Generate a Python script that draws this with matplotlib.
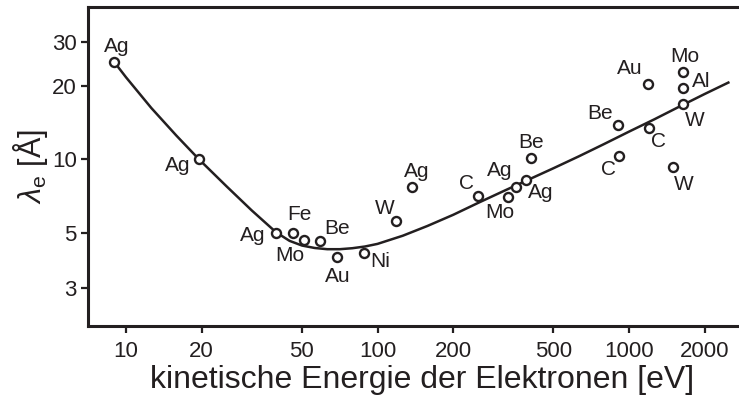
import matplotlib
matplotlib.use("Agg")
import matplotlib.pyplot as plt

# Messpunkte (Energie in eV, mittlere freie Weglaenge in Angstrom)
elements = ["Ag", "Ag", "Ag", "Fe", "Mo", "Be", "Au", "Ni", "W", "Ag",
            "C", "Mo", "Ag", "Ag", "Be", "C", "Be", "C", "Au", "W",
            "W", "Al", "Mo"]
energy = [8.96, 19.5, 39.5, 46.0, 51.2, 59.1, 69.2, 88.4, 118, 137.5,
          252, 331, 355, 391, 406, 915, 907, 1197, 1187, 1492,
          1635, 1644, 1635]
lam = [25.0, 10.0, 5.0, 5.0, 4.68, 4.65, 3.98, 4.16, 5.62, 7.69,
       7.08, 7.05, 7.69, 8.26, 10.1, 10.34, 13.8, 13.38, 20.2, 9.33,
       16.82, 19.5, 22.65]

# Universalkurve
curve_e = [8.96, 10, 12.6, 15.85, 19.5, 25.1, 31.6, 39.5, 44.7, 50.1,
           56.2, 63.1, 70.8, 79.4, 89.1, 100, 126, 158, 200, 251,
           316, 398, 501, 631, 794, 1000, 1259, 1585, 1995, 2483]
curve_lam = [25.0, 21.6, 16.2, 12.5, 10.0, 7.76, 6.19, 5.04, 4.65, 4.45,
             4.35, 4.30, 4.30, 4.34, 4.41, 4.52, 4.88, 5.35, 5.94, 6.64,
             7.41, 8.26, 9.20, 10.28, 11.53, 12.97, 14.55, 16.4, 18.45, 20.56]

xticks = [10, 20, 50, 100, 200, 500, 1000, 2000]
yticks = [3, 5, 10, 20, 30]

# Label-Versatz in Pixeln (dx, dy nach oben)
offsets = [(3, 15), (-21, -6), (-23, -2), (7, 19), (-15, -15), (17, 12),
           (0, -19), (16, -9), (-11, 12), (4, 16), (-12, 13), (-8, -16),
           (-16, 17), (14, -13), (0, 16), (-11, -14), (-18, 12), (10, -13),
           (-18, 16), (11, -18), (12, -17), (18, 7), (2, 16)]

ink = "#231f20"
plt.rcParams["font.family"] = ["Liberation Sans", "DejaVu Sans"]
plt.rcParams["mathtext.fontset"] = "custom"
plt.rcParams["mathtext.rm"] = "Liberation Sans"
plt.rcParams["mathtext.it"] = "Liberation Sans:italic"

fig = plt.figure(figsize=(7.39, 4.03), dpi=100)
ax = fig.add_axes([0.1191, 0.191, 0.8809, 0.7916])

ax.plot(curve_e, curve_lam, color=ink, lw=1.8, zorder=2,
        solid_joinstyle="round")
ax.plot(energy, lam, "o", ms=6.5, mfc="white", mec=ink, mew=1.7, zorder=3)

for el, e, l, (dx, dy) in zip(elements, energy, lam, offsets):
    ax.annotate(el, (e, l), xytext=(dx, dy), textcoords="offset pixels",
                ha="center", va="center", fontsize=15, color=ink)

ax.set_xscale("log")
ax.set_yscale("log")
ax.set_xlim(7.06, 2737)
ax.set_ylim(2.09, 41.8)
ax.set_xticks(xticks)
ax.set_xticklabels([str(t) for t in xticks])
ax.set_yticks(yticks)
ax.set_yticklabels([str(t) for t in yticks])
ax.minorticks_off()

for s in ["left", "top", "bottom"]:
    ax.spines[s].set_linewidth(2.2)
    ax.spines[s].set_color(ink)
ax.spines["right"].set_visible(False)

ax.tick_params(axis="x", direction="out", length=5, width=1.6, pad=6,
               labelsize=16, colors=ink)
ax.tick_params(axis="y", direction="out", length=5, width=1.6, pad=3,
               labelsize=16, colors=ink)

ax.set_xlabel("kinetische Energie der Elektronen [eV]", fontsize=23,
              color=ink, labelpad=2, x=0.513)
ax.set_ylabel(r"$\lambda_{\mathrm{e}}$ [Å]", fontsize=22, color=ink,
              labelpad=1.5)

fig.savefig("out.png", dpi=100)
